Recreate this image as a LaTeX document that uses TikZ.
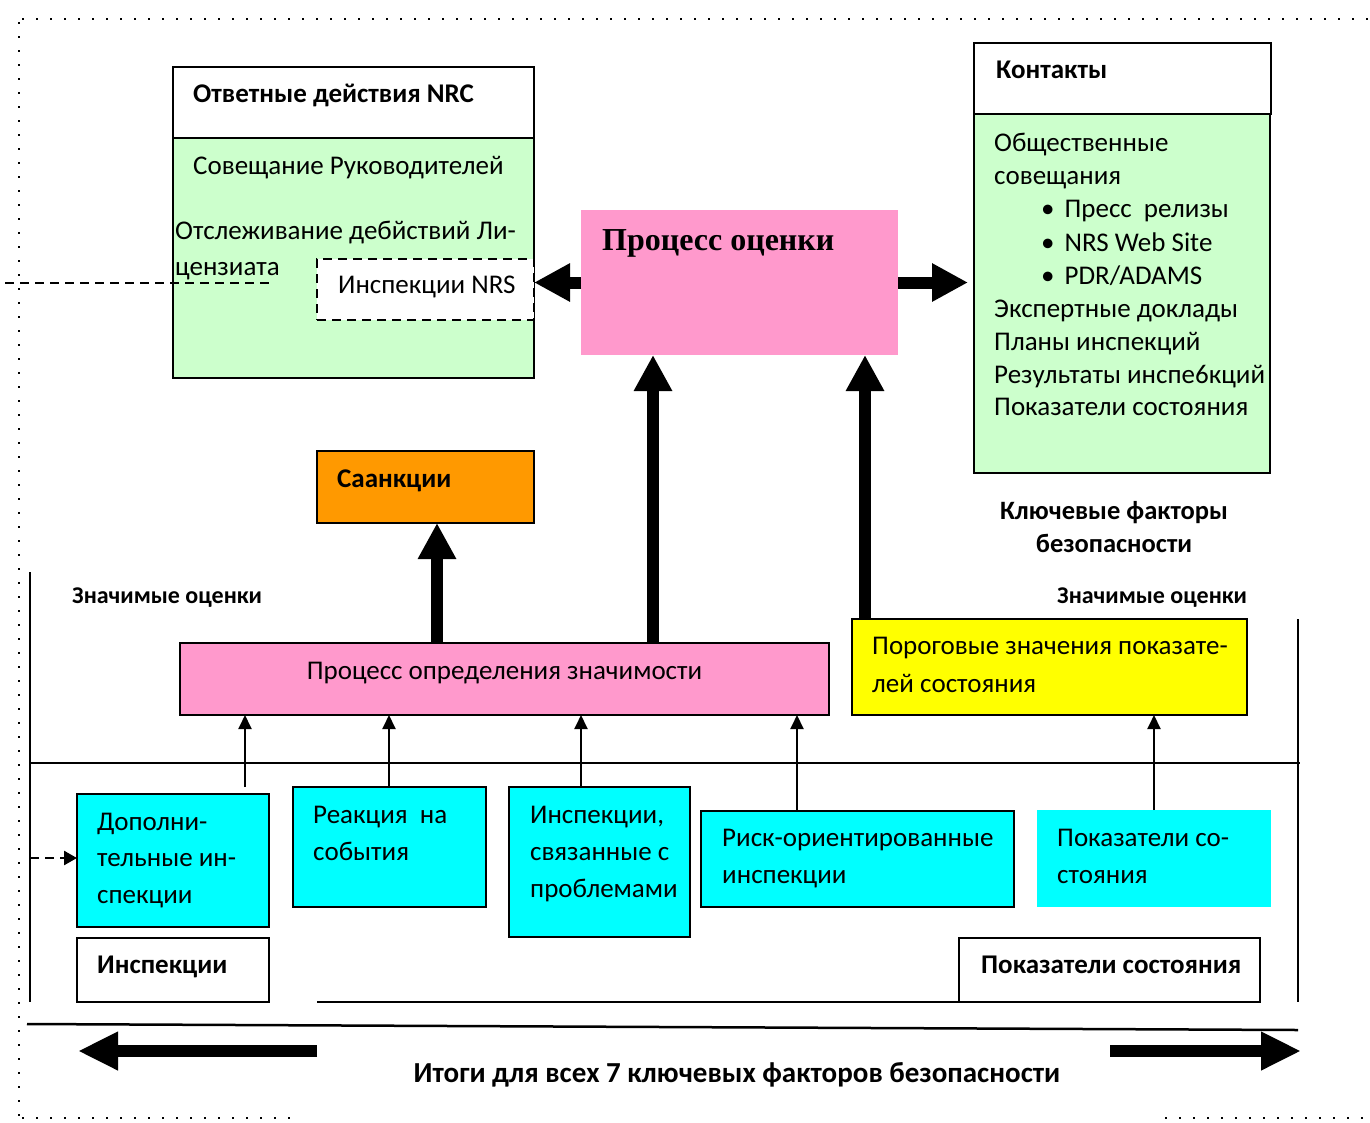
\documentclass[tikz,border=0pt]{standalone}
\usepackage{fontspec}
\setmainfont{Carlito}
\newfontfamily\titleserif{Liberation Serif}
\usetikzlibrary{arrows.meta}

\definecolor{paleGreen}{HTML}{CCFFCC}
\definecolor{procPink}{HTML}{FF99CC}
\definecolor{sanctOrange}{HTML}{FF9900}
\definecolor{threshYellow}{HTML}{FFFF00}
\definecolor{inspCyan}{HTML}{00FFFF}

\begin{document}
\begin{tikzpicture}[x={(1pt,0pt)}, y={(0pt,-1pt)},
  box/.style={draw, line width=1.6pt, inner sep=0pt, outer sep=0pt, anchor=north west},
  txt/.style={anchor=base west, inner sep=0pt, font=\fontsize{27}{33}\selectfont},
  ctxt/.style={txt, anchor=base},
  btxt/.style={anchor=base west, inner sep=0pt, font=\fontsize{27}{32}\selectfont\bfseries},
  stxt/.style={anchor=base west, inner sep=0pt, font=\fontsize{24}{28}\selectfont\bfseries},
  frameline/.style={line width=1.6pt},
  thinarrow/.style={line width=2pt, -{Triangle[width=13pt,length=14pt]}},
  bigarrow/.style={line width=12pt, -{Triangle[width=36pt,length=36pt]}},
  widearrow/.style={line width=12pt, -{Triangle[width=36pt,length=40pt]}},
  dotframe/.style={line width=2pt, dash pattern=on 2pt off 12pt},
  dashline/.style={line width=1.6pt, dash pattern=on 9pt off 6pt}]

\useasboundingbox (0,0) rectangle (1370,1122);

% dotted page frame
\draw[dotframe] (22,19) -- (1370,19);
\draw[dotframe] (19,22) -- (19,1122);
\draw[dotframe] (22,1118) -- (300,1118);
\draw[dotframe] (1165,1118) -- (1370,1118);

% NRC response block
\node[box, fill=white, minimum width=361pt, minimum height=71pt] (nrchead) at (173,67) {};
\node[box, fill=paleGreen, minimum width=361pt, minimum height=240pt] (nrcbody) at (173,138) {};
\node[btxt] (nrctitle) at (193,102) {Ответные действия NRC};
\node[txt] (meet) at (193,174) {Совещание Руководителей};
\node[txt] (track1) at (175,239) {Отслеживание дебйствий Ли-};
\node[txt] (track2) at (175,275) {цензиата};
\coordinate (dashL) at (5,283);
\coordinate (dashR) at (270,283);
\draw[dashline] (dashL) -- (dashR);
\node[box, fill=white, dashline, minimum width=217pt, minimum height=61pt] (nrsinsp) at (317,259) {};
\node[txt] (nrsinsptxt) at (338,293) {Инспекции NRS};

% assessment process
\node[box, draw=none, fill=procPink, minimum width=317pt, minimum height=145pt] (proc) at (581,210) {};
\node[anchor=base west, inner sep=0pt, font=\titleserif\bfseries\fontsize{32}{38}\selectfont] (proctxt) at (602,250) {Процесс оценки};

% contacts block
\node[box, fill=white, minimum width=297pt, minimum height=71pt] (conthead) at (974,43) {};
\node[box, fill=paleGreen, minimum width=296pt, minimum height=359pt] (contbody) at (974,114) {};
\node[btxt] (conttitle) at (996,78) {Контакты};
\node[txt] (c1) at (994,151) {Общественные};
\node[txt] (c2) at (994,184) {совещания};
\node[txt] (c3) at (1041,217) {•\hspace{10pt}Пресс\ \ релизы};
\node[txt] (c4) at (1041,251) {•\hspace{10pt}NRS Web Site};
\node[txt] (c5) at (1041,284) {•\hspace{10pt}PDR/ADAMS};
\node[txt] (c6) at (994,317) {Экспертные доклады};
\node[txt] (c7) at (994,350) {Планы инспекций};
\node[txt] (c8) at (994,383) {Результаты инспе6кций};
\node[txt] (c9) at (994,415) {Показатели состояния};

\node[anchor=base, inner sep=0pt, font=\fontsize{26.5}{32}\selectfont\bfseries] (kf1) at (1114,519) {Ключевые факторы};
\node[anchor=base, inner sep=0pt, font=\fontsize{26.5}{32}\selectfont\bfseries] (kf2) at (1114,552) {безопасности};

% sanctions
\node[box, fill=sanctOrange, minimum width=217pt, minimum height=72pt] (sanct) at (317,451) {};
\node[btxt] (sancttxt) at (337,487) {Саанкции};

% significance labels
\node[stxt] (sigL) at (72,603) {Значимые оценки};
\node[stxt] (sigR) at (1057,603) {Значимые оценки};

% significance determination process
\node[box, fill=procPink, minimum width=649pt, minimum height=72pt] (sig) at (180,643) {};
\node[ctxt] (sigtxt) at (504.5,679) {Процесс определения значимости};

% performance indicator thresholds
\node[box, fill=threshYellow, minimum width=395pt, minimum height=96pt] (thresh) at (852,619) {};
\node[txt] (th1) at (872,654) {Пороговые значения показате-};
\node[txt] (th2) at (872,692) {лей состояния};

% frame lines of the lower part
\draw[frameline] (30,572) -- (30,1002);
\draw[frameline] (1298,619) -- (1298,1002);
\draw[frameline] (30,763) -- (1300,763);
\draw[frameline] (317,1002) -- (959,1002);

% inspection boxes
\node[box, fill=inspCyan, minimum width=192pt, minimum height=133pt] (insA) at (77,794) {};
\node[txt] at (97,830) {Дополни-};
\node[txt] at (97,866) {тельные ин-};
\node[txt] at (97,903) {спекции};

\node[box, fill=inspCyan, minimum width=193pt, minimum height=120pt] (insB) at (293,787) {};
\node[txt] at (313,823) {Реакция\ \ на};
\node[txt] at (313,860) {события};

\node[box, fill=inspCyan, minimum width=181pt, minimum height=150pt] (insC) at (509,787) {};
\node[txt] at (530,823) {Инспекции,};
\node[txt] at (530,860) {связанные с};
\node[txt] at (530,897) {проблемами};

\node[box, fill=inspCyan, minimum width=313pt, minimum height=96pt] (insD) at (701,811) {};
\node[txt] at (722,846) {Риск-ориентированные};
\node[txt] at (722,883) {инспекции};

\node[box, draw=none, fill=inspCyan, minimum width=234pt, minimum height=97pt] (insE) at (1037,810) {};
\node[txt] at (1057,846) {Показатели со-};
\node[txt] at (1057,883) {стояния};

\node[box, fill=white, minimum width=192pt, minimum height=64pt] (inspLbl) at (77,938) {};
\node[btxt] at (97,973) {Инспекции};
\node[box, fill=white, minimum width=301pt, minimum height=64pt] (piLbl) at (959,938) {};
\node[btxt] at (981,973) {Показатели состояния};

% thin arrows into significance / thresholds
\coordinate (aA) at (245,787);
\coordinate (aB) at (389,787);
\coordinate (aC) at (581,787);
\coordinate (aD) at (797,811);
\draw[thinarrow] (aA) -- (aA |- sig.south);
\draw[thinarrow] (aB) -- (aB |- sig.south);
\draw[thinarrow] (aC) -- (aC |- sig.south);
\draw[thinarrow] (aD) -- (aD |- sig.south);
\draw[thinarrow] (insE.north) -- (insE.north |- thresh.south);

% dashed feed into supplementary inspections
\coordinate (feed) at (30,858);
\draw[line width=2.6pt, dash pattern=on 9pt off 6pt, -{Triangle[width=14pt,length=13pt]}] (feed) -- (feed -| insA.west);

% heavy arrows
\coordinate (s1) at (437,643);
\coordinate (s2) at (653,643);
\coordinate (s3) at (865,619);
\draw[bigarrow] (s1) -- (s1 |- sanct.south);
\draw[bigarrow] (s2) -- (s2 |- proc.south);
\draw[bigarrow] (s3) -- (s3 |- proc.south);
\draw[bigarrow] (proc.west) -- (proc.west -| nrcbody.east);
\draw[bigarrow] (proc.east) -- ([xshift=-6pt]proc.east -| contbody.west);

% summary band
\coordinate (slL) at (27,1024);
\coordinate (slR) at (1298,1030);
\draw[line width=2.5pt] (slL) -- (slR);
\coordinate (lA) at (317,1051);
\coordinate (lB) at (78,1051);
\coordinate (rA) at (1110,1051);
\coordinate (rB) at (1301,1051);
\draw[widearrow] (lA) -- (lB);
\draw[widearrow] (rA) -- (rB);
\node[anchor=base, inner sep=0pt, font=\fontsize{29}{34}\selectfont\bfseries] (summary) at (737,1082) {Итоги для всех 7 ключевых факторов безопасности};

\end{tikzpicture}
\end{document}
